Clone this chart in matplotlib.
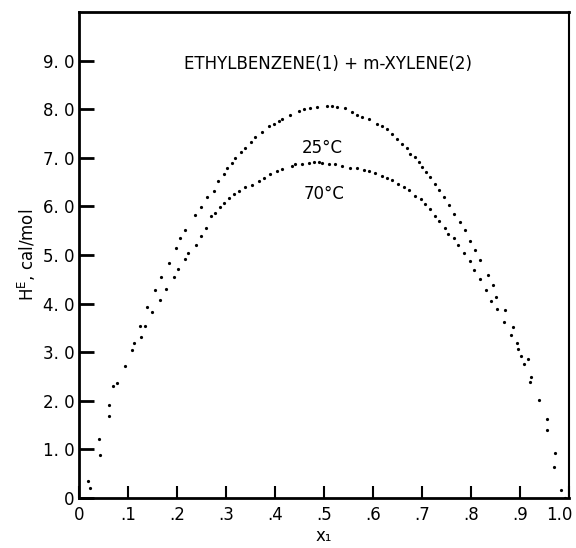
import matplotlib
matplotlib.use('Agg')
from matplotlib import pyplot as plt
from matplotlib.transforms import ScaledTranslation

# --- data (x1, H^E in cal/mol) ---
x_25 = [0.019, 0.040, 0.062, 0.070, 0.093, 0.112, 0.125, 0.138, 0.156, 0.168,
        0.184, 0.197, 0.207, 0.217, 0.237, 0.248, 0.261, 0.275, 0.284, 0.295,
        0.302, 0.312, 0.319, 0.331, 0.339, 0.350, 0.360, 0.373, 0.387, 0.397,
        0.408, 0.414, 0.431, 0.448, 0.459, 0.472, 0.486, 0.506, 0.516, 0.527,
        0.543, 0.557, 0.567, 0.578, 0.591, 0.608, 0.618, 0.629, 0.639, 0.649,
        0.659, 0.669, 0.676, 0.686, 0.693, 0.701, 0.708, 0.717, 0.727, 0.735,
        0.745, 0.756, 0.765, 0.777, 0.787, 0.797, 0.809, 0.818, 0.834, 0.844,
        0.851, 0.869, 0.885, 0.894, 0.916, 0.923, 0.939, 0.955, 0.971, 0.984]
h_25 = [0.36, 1.21, 1.91, 2.30, 2.72, 3.18, 3.53, 3.94, 4.27, 4.55,
        4.83, 5.14, 5.34, 5.51, 5.82, 5.98, 6.19, 6.32, 6.52, 6.67,
        6.78, 6.90, 7.00, 7.12, 7.21, 7.33, 7.43, 7.54, 7.65, 7.70,
        7.76, 7.79, 7.88, 7.96, 8.00, 8.03, 8.05, 8.07, 8.07, 8.05,
        8.03, 7.95, 7.88, 7.84, 7.79, 7.70, 7.65, 7.59, 7.48, 7.38,
        7.29, 7.20, 7.08, 7.02, 6.92, 6.81, 6.71, 6.61, 6.47, 6.33,
        6.19, 6.03, 5.84, 5.67, 5.51, 5.28, 5.10, 4.89, 4.58, 4.38,
        4.14, 3.86, 3.52, 3.18, 2.86, 2.50, 2.02, 1.62, 0.93, 0.16]

x_70 = [0.022, 0.043, 0.062, 0.078, 0.108, 0.126, 0.135, 0.148, 0.165, 0.178,
        0.193, 0.203, 0.216, 0.222, 0.239, 0.249, 0.259, 0.270, 0.278, 0.288,
        0.295, 0.306, 0.316, 0.326, 0.339, 0.353, 0.367, 0.377, 0.390, 0.404,
        0.414, 0.435, 0.441, 0.455, 0.469, 0.479, 0.489, 0.496, 0.510, 0.523,
        0.537, 0.554, 0.567, 0.581, 0.591, 0.605, 0.618, 0.629, 0.639, 0.652,
        0.663, 0.673, 0.686, 0.697, 0.707, 0.717, 0.727, 0.734, 0.746, 0.753,
        0.765, 0.774, 0.785, 0.797, 0.807, 0.818, 0.830, 0.841, 0.854, 0.867,
        0.881, 0.895, 0.902, 0.909, 0.921, 0.955, 0.969, 0.992]
h_70 = [0.20, 0.89, 1.68, 2.37, 3.05, 3.32, 3.53, 3.82, 4.07, 4.31,
        4.55, 4.71, 4.92, 5.05, 5.21, 5.40, 5.56, 5.80, 5.87, 5.99,
        6.08, 6.17, 6.25, 6.32, 6.39, 6.44, 6.52, 6.58, 6.66, 6.73,
        6.76, 6.83, 6.87, 6.88, 6.90, 6.92, 6.92, 6.90, 6.88, 6.87,
        6.83, 6.80, 6.78, 6.74, 6.73, 6.69, 6.63, 6.58, 6.54, 6.47,
        6.40, 6.33, 6.21, 6.15, 6.04, 5.94, 5.80, 5.70, 5.56, 5.44,
        5.35, 5.21, 5.04, 4.87, 4.69, 4.51, 4.28, 4.05, 3.89, 3.62,
        3.35, 3.06, 2.92, 2.75, 2.39, 1.39, 0.63, 0.01]

x_ticks = [0, 0.1, 0.2, 0.3, 0.4, 0.5, 0.6, 0.7, 0.8, 0.9, 1.0]
x_tick_labels = ['0', '.1', '.2', '.3', '.4', '.5', '.6', '.7', '.8', '.9', '1.0']
y_ticks = [0, 1, 2, 3, 4, 5, 6, 7, 8, 9]
y_tick_labels = ['0', '1. 0', '2. 0', '3. 0', '4. 0', '5. 0', '6. 0', '7. 0', '8. 0', '9. 0']

fig = plt.figure(figsize=(5.76, 5.48), dpi=100)
ax = fig.add_axes([79 / 576, 1 - 498 / 548, 490 / 576, 486 / 548])

ax.plot(x_25, h_25, 'o', color='black', markersize=2.3, markeredgewidth=0)
ax.plot(x_70, h_70, 'o', color='black', markersize=2.3, markeredgewidth=0)

ax.set_xlim(0, 1.0)
ax.set_ylim(0, 10)

ax.set_xticks(x_ticks)
ax.set_xticklabels(x_tick_labels)
ax.set_yticks(y_ticks)
ax.set_yticklabels(y_tick_labels)
ax.tick_params(axis='y', direction='in', length=11, width=2, labelsize=12, pad=3)
ax.tick_params(axis='x', direction='in', length=9, width=1.5, labelsize=12, pad=6)

# "1.0" sits a bit left so it stays inside the page
last = ax.get_xticklabels()[-1]
last.set_transform(last.get_transform() + ScaledTranslation(-7 / 72, 0, fig.dpi_scale_trans))

for side in ['left', 'bottom', 'top']:
    ax.spines[side].set_linewidth(2)
ax.spines['right'].set_linewidth(1.5)

ax.set_xlabel('x₁', fontsize=12, labelpad=2)
ax.set_ylabel('$\\mathregular{H^E}$, cal/mol', fontsize=12, labelpad=4)

ax.text(0.508, 8.93, 'ETHYLBENZENE(1) + m-XYLENE(2)', fontsize=12,
        ha='center', va='center')
ax.text(0.496, 7.2, '25°C', fontsize=12, ha='center', va='center')
ax.text(0.500, 6.26, '70°C', fontsize=12, ha='center', va='center')

plt.savefig('out.png', dpi=100)
